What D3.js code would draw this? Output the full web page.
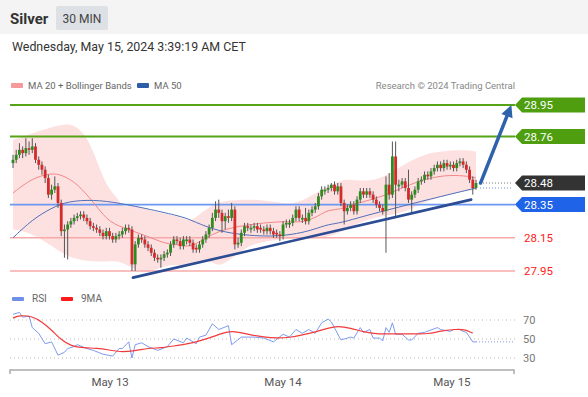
<!DOCTYPE html>
<html><head><meta charset="utf-8">
<script src="https://cdn.jsdelivr.net/npm/d3@7"></script>
<style>body{margin:0;background:#fff;} svg{display:block;font-family:Roboto,"Liberation Sans",Arial,sans-serif;}</style>
</head><body><svg id="c" width="588" height="397"></svg>
<script>
// ---------- DATA ----------
const openP = [
28.60,28.62,28.65,28.68,28.66,28.69,28.68,28.70,28.62,28.59,
28.56,28.51,28.41,28.44,28.46,28.36,28.19,28.20,28.23,28.25,
28.27,28.28,28.29,28.27,28.25,28.22,28.21,28.20,28.18,28.16,
28.19,28.16,28.14,28.16,28.17,28.19,28.21,28.20,27.99,28.11,
28.15,28.14,28.11,28.09,28.06,28.03,28.02,28.03,28.05,28.06,
28.11,28.14,28.13,28.10,28.13,28.14,28.12,28.09,28.08,28.11,
28.14,28.17,28.21,28.27,28.32,28.30,28.25,28.28,28.27,28.32,
28.11,28.12,28.18,28.22,28.20,28.21,28.22,28.21,28.20,28.19,
28.21,28.19,28.18,28.17,28.16,28.23,28.23,28.24,28.27,28.32,
28.26,28.27,28.25,28.30,28.32,28.34,28.40,28.43,28.44,28.45,
28.47,28.43,28.46,28.36,28.31,28.33,28.35,28.31,28.38,28.43,
28.41,28.43,28.41,28.38,28.35,28.33,28.31,28.47,28.41,28.64,
28.46,28.47,28.49,28.45,28.38,28.41,28.44,28.49,28.50,28.53,
28.52,28.55,28.57,28.59,28.57,28.60,28.58,28.59,28.57,28.60,
28.61,28.59,28.56,28.50,28.45];
const highP = [
28.65,28.68,28.72,28.70,28.75,28.73,28.75,28.72,28.64,28.61,
28.58,28.53,28.47,28.52,28.48,28.38,28.23,28.25,28.27,28.29,
28.30,28.31,28.31,28.29,28.27,28.24,28.23,28.22,28.20,28.21,
28.21,28.18,28.18,28.19,28.21,28.23,28.23,28.22,28.13,28.17,
28.17,28.16,28.13,28.11,28.08,28.05,28.05,28.07,28.08,28.13,
28.16,28.16,28.15,28.16,28.16,28.16,28.14,28.11,28.13,28.16,
28.19,28.23,28.30,28.37,28.38,28.32,28.30,28.32,28.36,28.34,
28.15,28.20,28.24,28.24,28.23,28.24,28.24,28.23,28.22,28.23,
28.23,28.21,28.20,28.19,28.25,28.26,28.26,28.29,28.34,28.34,
28.29,28.33,28.32,28.34,28.36,28.42,28.46,28.46,28.47,28.48,
28.49,28.48,28.48,28.38,28.35,28.37,28.37,28.40,28.45,28.45,
28.45,28.45,28.43,28.40,28.37,28.35,28.52,28.54,28.73,28.73,
28.50,28.51,28.51,28.56,28.43,28.46,28.51,28.52,28.55,28.55,
28.57,28.59,28.61,28.61,28.62,28.62,28.61,28.61,28.62,28.63,
28.63,28.61,28.58,28.52,28.50];
const lowP = [
28.57,28.60,28.63,28.63,28.64,28.65,28.66,28.60,28.56,28.53,
28.48,28.39,28.38,28.42,28.33,28.16,28.03,28.02,28.21,28.23,
28.25,28.26,28.25,28.23,28.20,28.19,28.18,28.16,28.14,28.14,
28.14,28.12,28.12,28.14,28.15,28.17,28.18,27.95,27.95,28.09,
28.12,28.09,28.07,28.04,28.01,28.00,27.97,28.01,28.03,28.04,
28.09,28.11,28.08,28.08,28.11,28.10,28.06,28.06,28.06,28.09,
28.12,28.15,28.19,28.25,28.27,28.18,28.20,28.24,28.25,28.08,
28.09,28.10,28.16,28.19,28.18,28.19,28.18,28.18,28.17,28.17,
28.17,28.15,28.15,28.13,28.14,28.21,28.21,28.22,28.25,28.25,
28.24,28.23,28.23,28.28,28.30,28.32,28.38,28.41,28.42,28.43,
28.41,28.41,28.34,28.23,28.29,28.31,28.29,28.29,28.36,28.39,
28.39,28.39,28.36,28.33,28.31,28.29,28.06,28.38,28.39,28.27,
28.43,28.45,28.43,28.36,28.30,28.39,28.42,28.47,28.48,28.50,
28.50,28.53,28.55,28.55,28.55,28.56,28.56,28.55,28.55,28.58,
28.57,28.54,28.48,28.41,28.44];
const closeP = [
28.62,28.65,28.68,28.66,28.69,28.68,28.70,28.62,28.59,28.56,
28.51,28.41,28.44,28.46,28.36,28.19,28.20,28.23,28.25,28.27,
28.28,28.29,28.27,28.25,28.22,28.21,28.20,28.18,28.16,28.19,
28.16,28.14,28.16,28.17,28.19,28.21,28.20,27.99,28.11,28.15,
28.14,28.11,28.09,28.06,28.03,28.02,28.03,28.05,28.06,28.11,
28.14,28.13,28.10,28.14,28.14,28.12,28.08,28.08,28.11,28.14,
28.17,28.21,28.27,28.32,28.30,28.25,28.28,28.27,28.32,28.11,
28.12,28.18,28.22,28.21,28.21,28.22,28.20,28.20,28.19,28.21,
28.19,28.17,28.17,28.16,28.23,28.24,28.24,28.27,28.32,28.27,
28.27,28.25,28.30,28.32,28.34,28.40,28.44,28.44,28.45,28.47,
28.43,28.46,28.36,28.31,28.33,28.35,28.31,28.38,28.43,28.41,
28.43,28.41,28.38,28.35,28.33,28.31,28.47,28.41,28.64,28.47,
28.47,28.49,28.45,28.38,28.41,28.44,28.49,28.50,28.53,28.52,
28.55,28.57,28.59,28.57,28.60,28.58,28.59,28.57,28.60,28.61,
28.59,28.56,28.50,28.45,28.48];

const bbUpperIdx = [0,6,14,19,23,26,29,33,34,38,43,52,55,59,64,70,78,85,90,95,102,105,111,116,122,129,133,140,144];
const bbUpperVal = [28.74,28.78,28.83,28.84,28.76,28.62,28.46,28.38,28.33,28.35,28.31,28.28,28.24,28.31,28.37,28.38,28.38,28.35,28.37,28.43,28.50,28.50,28.49,28.52,28.60,28.66,28.67,28.68,28.67];
const bbLowerIdx = [0,6,15,19,27,33,38,43,49,55,61,64,70,75,83,90,95,102,107,114,122,129,140,144];
const bbLowerVal = [28.20,28.18,28.06,28.02,28.00,28.02,27.95,27.94,28.00,27.97,28.03,27.96,28.06,28.12,28.14,28.15,28.14,28.18,28.24,28.28,28.30,28.38,28.43,28.44];
const ma20Idx = [0,6,12,15,20,26,30,36,43,48,52,55,60,64,70,78,85,90,95,98,102,105,114,122,129,136,142,144];
const ma20Val = [28.42,28.51,28.54,28.53,28.48,28.34,28.24,28.20,28.15,28.11,28.11,28.09,28.15,28.19,28.22,28.24,28.25,28.24,28.28,28.32,28.32,28.35,28.39,28.46,28.51,28.53,28.52,28.51];
const ma50Idx = [0,6,12,17,25,33,43,52,55,62,70,77,83,90,95,98,102,109,119,129,144];
const ma50Val = [28.15,28.26,28.33,28.37,28.38,28.36,28.32,28.28,28.26,28.20,28.17,28.16,28.16,28.18,28.21,28.23,28.24,28.28,28.33,28.38,28.45];

const rsiIdx = [0,2,3,5,6,8,10,12,14,16,17,19,20,23,25,28,31,33,34,36,37,38,40,42,45,48,50,53,54,57,58,60,62,64,67,68,71,75,78,81,84,86,88,90,92,94,96,98,99,102,105,106,108,109,111,112,114,115,116,117,118,119,121,123,124,126,128,132,133,136,137,139,140,141,143,144];
const rsiVal = [76,78,73,74,62,56,45,47,33,36,40,42,44,40,38,34,32,40,40,47,30,44,46,42,38,42,50,46,51,45,52,54,66,60,64,44,52,52,51,47,55,52,60,56,60,56,67,71,68,49,52,51,62,57,60,51,51,48,62,57,67,55,55,49,49,56,57,62,60,58,60,60,58,57,47,47];
const rsiMaIdx = [0,2,6,9,12,15,18,22,26,30,33,38,42,46,50,54,58,62,67,70,74,78,82,86,90,94,98,101,105,109,113,117,121,125,129,133,138,141,142,143];
const rsiMaVal = [72,75,74,68,59.5,49,42.6,40.5,40.5,38.4,36.3,37.4,40.5,40.5,42.6,44.7,47.9,52.1,58.4,57.4,54.2,52.1,51,51.5,54.2,57.4,61.6,63.7,61.6,57.4,55.3,55.3,55.3,55.3,55.3,58.4,60.5,59.5,57.4,56.3];

const levelValues = [28.95, 28.76, 28.48, 28.35, 28.15, 27.95];
const levelKinds  = ["res", "res", "last", "pivot", "sup", "sup"];
const trendIdx = [37.3, 142.5];
const trendVal = [27.91, 28.38];
const arrowIdx = [145.4, 155];
const arrowVal = [28.48, 28.95];
const rsiTicks = [70, 50, 30];
const dayLabels = ["May 13", "May 14", "May 15"];
const dayIdx = [30.2, 84, 136.5];

// ---------- SETUP ----------
const svg = d3.select("#c");
const W = 588;
const x = d3.scaleLinear().domain([0, 144]).range([13, 476]);
const y = d3.scaleLinear().domain([27.95, 28.95]).range([271, 105]);
const yr = d3.scaleLinear().domain([30, 70]).range([358, 320]);

// header
svg.append("rect").attr("x",0).attr("y",0).attr("width",W).attr("height",34).attr("fill","#f4f4f4");
svg.append("text").attr("x",10).attr("y",24).text("Silver").attr("font-size",15).attr("font-weight","bold").attr("fill","#333");
svg.append("rect").attr("x",56).attr("y",6).attr("width",52).attr("height",24).attr("rx",2).attr("fill","#dde0e4");
svg.append("text").attr("x",82).attr("y",22.5).attr("text-anchor","middle").text("30 MIN").attr("font-size",12).attr("fill","#444");
svg.append("text").attr("x",12).attr("y",51).text("Wednesday, May 15, 2024 3:39:19 AM CET").attr("font-size",12.4).attr("fill","#333");

// legend
const lg = svg.append("g").attr("font-size",9.5).attr("fill","#666");
lg.append("rect").attr("x",11).attr("y",83).attr("width",12).attr("height",5).attr("rx",1).attr("fill","#f59a9a");
lg.append("text").attr("x",28).attr("y",89).text("MA 20 + Bollinger Bands");
lg.append("rect").attr("x",137).attr("y",83).attr("width",12).attr("height",5).attr("rx",1).attr("fill","#2f5ea8");
lg.append("text").attr("x",154).attr("y",89).text("MA 50");
lg.append("text").attr("x",515).attr("y",89).attr("text-anchor","end").attr("fill","#888").text("Research \u00A9 2024 Trading Central");

// bollinger band
const pts = (ix, v) => ix.map((d,i)=>[x(d), y(v[i])]);
const lineB = d3.line().curve(d3.curveBasis);
const up = lineB(pts(bbUpperIdx,bbUpperVal));
const lo = lineB(pts(bbLowerIdx,bbLowerVal).reverse()).replace(/^M/,"L");
svg.append("path").attr("d", up + lo + "Z").attr("fill","#fcd9d9").attr("opacity",0.8);

// horizontal levels
const lineColor = {res:"#55a317", pivot:"#6b98f2", sup:"#f7a8a8"};
const lineWidth = {res:2, pivot:1.6, sup:1.5};
levelValues.forEach((v,i)=>{
  const k = levelKinds[i];
  if (k === "last") return;
  svg.append("line").attr("x1",10).attr("x2",515).attr("y1",y(v)).attr("y2",y(v))
    .attr("stroke",lineColor[k]).attr("stroke-width",lineWidth[k]);
});

// moving averages
svg.append("path").attr("d", lineB(pts(ma20Idx,ma20Val))).attr("fill","none").attr("stroke","#f28787").attr("stroke-width",1);
svg.append("path").attr("d", lineB(pts(ma50Idx,ma50Val))).attr("fill","none").attr("stroke","#4f6fb8").attr("stroke-width",1);

// dotted extensions
const lastI = closeP.length - 1;
svg.append("line").attr("x1",x(lastI)+4).attr("x2",512).attr("y1",y(closeP[lastI])).attr("y2",y(closeP[lastI]))
  .attr("stroke","#777").attr("stroke-width",1).attr("stroke-dasharray","1,2");
svg.append("line").attr("x1",x(lastI)+4).attr("x2",512).attr("y1",y(ma50Val[ma50Val.length-1])).attr("y2",y(ma50Val[ma50Val.length-1]))
  .attr("stroke","#6b8fe0").attr("stroke-width",1).attr("stroke-dasharray","1,2");

// candles
const cg = svg.append("g");
closeP.forEach((c,i)=>{
  const o = openP[i], isUp = c >= o;
  const cx = x(i);
  cg.append("line").attr("x1",cx).attr("x2",cx).attr("y1",y(highP[i])).attr("y2",y(lowP[i]))
    .attr("stroke","#555").attr("stroke-width",1);
  const top = y(Math.max(o,c)), bot = y(Math.min(o,c));
  cg.append("rect").attr("x",cx-1.4).attr("width",2.8).attr("y",top).attr("height",Math.max(1,bot-top))
    .attr("fill", isUp ? "#2f8a1f" : "#d42a2a");
});

// trend line
svg.append("line").attr("x1",x(trendIdx[0])).attr("y1",y(trendVal[0])).attr("x2",x(trendIdx[1])).attr("y2",y(trendVal[1]))
  .attr("stroke","#2c4d93").attr("stroke-width",2.6).attr("stroke-linecap","round");

// projection arrow
{
  const x0=x(arrowIdx[0]), y0=y(arrowVal[0]), x1=x(arrowIdx[1]), y1=y(arrowVal[1]);
  const a = Math.atan2(y1-y0, x1-x0), L=12, Wd=6;
  const bx = x1 - L*Math.cos(a), by = y1 - L*Math.sin(a);
  svg.append("line").attr("x1",x0).attr("y1",y0).attr("x2",bx).attr("y2",by)
    .attr("stroke","#2f62ad").attr("stroke-width",3.5).attr("stroke-linecap","round");
  const px = -Math.sin(a), py = Math.cos(a);
  svg.append("path").attr("d",`M${x1},${y1}L${bx+px*Wd},${by+py*Wd}L${bx-px*Wd},${by-py*Wd}Z`).attr("fill","#2f62ad");
}

// price labels
const boxColor = {res:"#4e9e10", last:"#333333", pivot:"#1f63e8"};
levelValues.forEach((v,i)=>{
  const k = levelKinds[i], yy = y(v);
  if (k === "sup") {
    svg.append("text").attr("x",524).attr("y",yy+4).text(v.toFixed(2)).attr("font-size",11.5).attr("fill","#ff2020");
    return;
  }
  svg.append("path").attr("d",`M515,${yy}L522,${yy-7.5}L585,${yy-7.5}L585,${yy+7.5}L522,${yy+7.5}Z`).attr("fill",boxColor[k]);
  svg.append("text").attr("x",524).attr("y",yy+4.2).text(v.toFixed(2)).attr("font-size",11.5).attr("fill","#fff");
});

// ---------- RSI panel ----------
const rg = svg.append("g").attr("font-size",10).attr("fill","#666");
rg.append("rect").attr("x",12).attr("y",297).attr("width",12).attr("height",4).attr("rx",1).attr("fill","#6f8fe8");
rg.append("text").attr("x",32).attr("y",302).text("RSI");
rg.append("rect").attr("x",61).attr("y",297).attr("width",12).attr("height",4).attr("rx",1).attr("fill","#ff1a1a");
rg.append("text").attr("x",81).attr("y",302).text("9MA");

rsiTicks.forEach(t=>{
  svg.append("line").attr("x1",10).attr("x2",515).attr("y1",yr(t)).attr("y2",yr(t))
    .attr("stroke","#bbb").attr("stroke-width",1).attr("stroke-dasharray","1,3");
  svg.append("text").attr("x",523).attr("y",yr(t)+4).text(t).attr("font-size",11).attr("fill","#777");
});

const lineL = d3.line();
svg.append("path").attr("d", lineL(rsiIdx.map((d,i)=>[x(d), yr(rsiVal[i])]))).attr("fill","none")
  .attr("stroke","#7d9bf0").attr("stroke-width",1);
svg.append("line").attr("x1",x(rsiIdx[rsiIdx.length-1])).attr("x2",515)
  .attr("y1",yr(rsiVal[rsiVal.length-1])).attr("y2",yr(rsiVal[rsiVal.length-1]))
  .attr("stroke","#7d9bf0").attr("stroke-width",1).attr("stroke-dasharray","1,2");
svg.append("path").attr("d", lineB(rsiMaIdx.map((d,i)=>[x(d), yr(rsiMaVal[i])]))).attr("fill","none")
  .attr("stroke","#f23b3b").attr("stroke-width",1.2);

// x axis
svg.append("path").attr("d","M10,374V370H514V374").attr("fill","none").attr("stroke","#aaa").attr("stroke-width",1.5);
dayLabels.forEach((d,i)=>{
  svg.append("text").attr("x",x(dayIdx[i])).attr("y",386).attr("text-anchor","middle").text(d)
    .attr("font-size",11.5).attr("fill","#555");
});
</script></body></html>
